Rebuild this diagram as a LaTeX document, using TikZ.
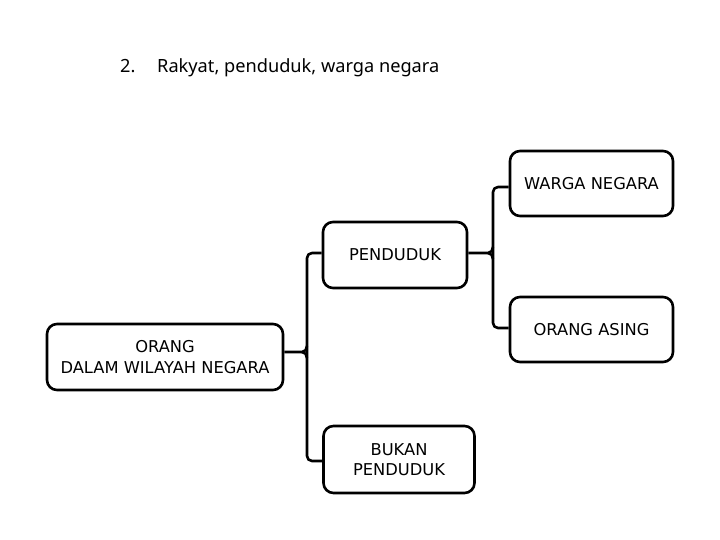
\documentclass[tikz,border=0pt]{standalone}
\usepackage{fontspec}
\setmainfont{Noto Sans}
\newfontfamily\boxfont{DejaVu Sans}
\begin{document}
\begin{tikzpicture}[x=1pt,y=-1pt,
  box/.style={draw=black,line width=2.6pt,rounded corners=10pt,fill=white,align=center,inner sep=0pt,font=\boxfont\fontsize{16.3}{20.5}\selectfont},
  conn/.style={draw=black,line width=2.6pt,line join=round},
  title/.style={anchor=base west,inner sep=0pt,font=\fontsize{18.2}{22}\selectfont}]
\useasboundingbox (0,0) rectangle (720,540);
\node[title] (num) at (120,73) {2.};
\node[title] (ttl) at (157,73) {Rakyat, penduduk, warga negara};
\node[box,minimum width=236pt,minimum height=66pt] (orang) at (165,357) {ORANG\\DALAM WILAYAH NEGARA};
\node[box,minimum width=144pt,minimum height=66pt] (pend) at (395,255) {PENDUDUK};
\node[box,minimum width=163pt,minimum height=65pt] (warga) at (591.5,183.5) {WARGA NEGARA};
\node[box,minimum width=163pt,minimum height=65pt] (asing) at (591.5,329.5) {ORANG ASING};
\node[box,minimum width=151pt,minimum height=67pt] (bukan) at (399,459.5) {BUKAN\\PENDUDUK};
% left brace
\draw[conn,rounded corners=5pt] (pend.west |- 0,253) -- (307,253) -- (307,461) -- (bukan.west |- 0,461);
\draw[conn] (orang.east |- 0,352) -- (302,352) to[out=0,in=-90] (307,346);
\draw[conn] (302,352) to[out=0,in=90] (307,358);
% right brace
\draw[conn,rounded corners=5pt] (warga.west |- 0,187) -- (493,187) -- (493,328) -- (asing.west |- 0,328);
\draw[conn] (pend.east |- 0,253) -- (488,253) to[out=0,in=-90] (493,247);
\draw[conn] (488,253) to[out=0,in=90] (493,259);
\end{tikzpicture}
\end{document}
